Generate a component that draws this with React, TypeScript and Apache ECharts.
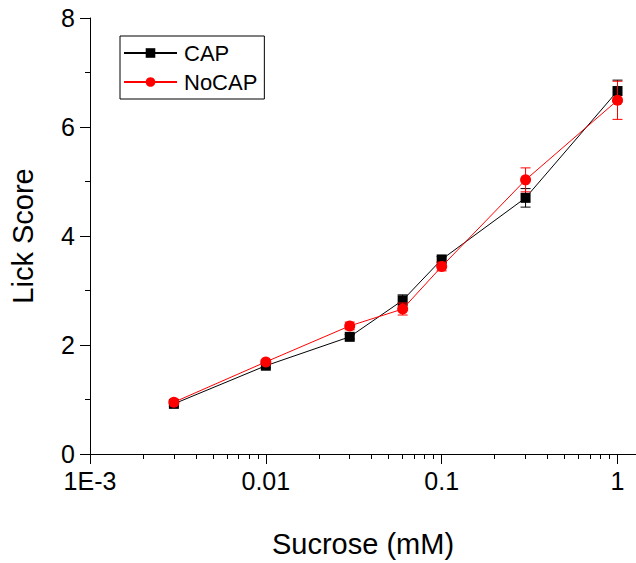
import React, { useEffect, useRef } from "react";
import * as echarts from "echarts";

const sucrose = [0.003, 0.01, 0.03, 0.06, 0.1, 0.3, 1];
const capMean = [0.92, 1.62, 2.15, 2.82, 3.57, 4.7, 6.66];
const capErr = [0.04, 0.04, 0.04, 0.1, 0.05, 0.17, 0.2];
const nocapMean = [0.95, 1.69, 2.35, 2.66, 3.44, 5.03, 6.49];
const nocapErr = [0.03, 0.03, 0.07, 0.11, 0.08, 0.22, 0.35];

const majorTicks = [0.001, 0.01, 0.1, 1];
const minorTicks = [
  0.002, 0.003, 0.004, 0.005, 0.006, 0.007, 0.008, 0.009,
  0.02, 0.03, 0.04, 0.05, 0.06, 0.07, 0.08, 0.09,
  0.2, 0.3, 0.4, 0.5, 0.6, 0.7, 0.8, 0.9,
];
const seriesNames = ["CAP", "NoCAP"];

const FONT = "'Liberation Sans', Arial, sans-serif";

function errRender(color: string) {
  return (params: any, api: any) => {
    const x = api.value(0);
    const y = api.value(1);
    const e = api.value(2);
    const top = api.coord([x, y + e]);
    const bot = api.coord([x, y - e]);
    const hw = 5;
    const st = { stroke: color, lineWidth: 1 };
    return {
      type: "group",
      children: [
        { type: "line", shape: { x1: top[0], y1: top[1], x2: bot[0], y2: bot[1] }, style: st },
        { type: "line", shape: { x1: top[0] - hw, y1: top[1], x2: top[0] + hw, y2: top[1] }, style: st },
        { type: "line", shape: { x1: bot[0] - hw, y1: bot[1], x2: bot[0] + hw, y2: bot[1] }, style: st },
      ],
    };
  };
}

export default function App() {
  const ref = useRef<HTMLDivElement>(null);
  useEffect(() => {
    if (!ref.current) return;
    const chart = echarts.init(ref.current, null, { renderer: "svg" });
    const capData = sucrose.map((x, i) => [x, capMean[i]]);
    const nocapData = sucrose.map((x, i) => [x, nocapMean[i]]);
    const capErrData = sucrose.map((x, i) => [x, capMean[i], capErr[i]]);
    const nocapErrData = sucrose.map((x, i) => [x, nocapMean[i], nocapErr[i]]);
    chart.setOption({
      animation: false,
      backgroundColor: "#fff",
      textStyle: { fontFamily: FONT },
      grid: { left: 76, right: 0, top: 18, bottom: 95, containLabel: false },
      legend: {
        data: seriesNames,
        orient: "vertical",
        left: 120,
        top: 36,
        padding: [6, 7, 6, 3],
        itemGap: 7,
        itemWidth: 53,
        itemHeight: 12,
        borderColor: "#000",
        borderWidth: 1,
        borderRadius: 0,
        textStyle: { fontSize: 22, color: "#000", fontFamily: FONT, padding: [0, 0, 0, 2] },
      },
      xAxis: [
        {
          type: "log",
          logBase: 10,
          min: 0.001,
          max: 1.274,
          name: "Sucrose (mM)",
          nameLocation: "middle",
          nameGap: 75,
          nameTextStyle: { fontSize: 29, color: "#000", fontFamily: FONT },
          axisLine: { show: true, lineStyle: { color: "#000", width: 1 } },
          axisTick: { show: true, inside: false, length: 10, lineStyle: { color: "#000" }, customValues: majorTicks },
          axisLabel: {
            show: true,
            fontSize: 25,
            color: "#000",
            fontFamily: FONT,
            margin: 14,
            customValues: majorTicks,
            formatter: (v: number) => {
              const p = Math.round(Math.log10(v));
              return p === -3 ? "1E-3" : p === -2 ? "0.01" : p === -1 ? "0.1" : "1";
            },
          },
          splitLine: { show: false },
        },
        {
          type: "log",
          logBase: 10,
          min: 0.001,
          max: 1.274,
          position: "bottom",
          axisLine: { show: false },
          axisTick: { show: true, inside: false, length: 5, lineStyle: { color: "#000" }, customValues: minorTicks },
          axisLabel: { show: false },
          splitLine: { show: false },
        },
      ],
      yAxis: {
        type: "value",
        min: 0,
        max: 8,
        interval: 2,
        name: "Lick Score",
        nameLocation: "middle",
        nameGap: 53,
        nameTextStyle: { fontSize: 29, color: "#000", fontFamily: FONT },
        axisLine: { show: true, lineStyle: { color: "#000", width: 1 } },
        axisTick: { show: true, inside: false, length: 10, lineStyle: { color: "#000" } },
        minorTick: { show: true, splitNumber: 2, length: 5, lineStyle: { color: "#000" } },
        axisLabel: { fontSize: 25, color: "#000", fontFamily: FONT, margin: 15 },
        splitLine: { show: false },
      },
      series: [
        {
          name: "CAP",
          type: "line",
          data: capData,
          symbol: "rect",
          symbolSize: 10,
          itemStyle: { color: "#000" },
          lineStyle: { color: "#000", width: 1 },
          z: 2,
        },
        {
          name: "CAP-err",
          type: "custom",
          data: capErrData,
          renderItem: errRender("#000"),
          encode: { x: 0, y: 1 },
          z: 3,
          silent: true,
        },
        {
          name: "NoCAP",
          type: "line",
          data: nocapData,
          symbol: "circle",
          symbolSize: 11,
          itemStyle: { color: "#ff0000" },
          lineStyle: { color: "#ff0000", width: 1 },
          z: 4,
        },
        {
          name: "NoCAP-err",
          type: "custom",
          data: nocapErrData,
          renderItem: errRender("#ff0000"),
          encode: { x: 0, y: 1 },
          z: 5,
          silent: true,
        },
      ],
    });
    return () => chart.dispose();
  }, []);
  return (
    <div
      ref={ref}
      style={{ position: "fixed", left: 0, top: 0, width: 636, height: 563, background: "#fff" }}
    />
  );
}
